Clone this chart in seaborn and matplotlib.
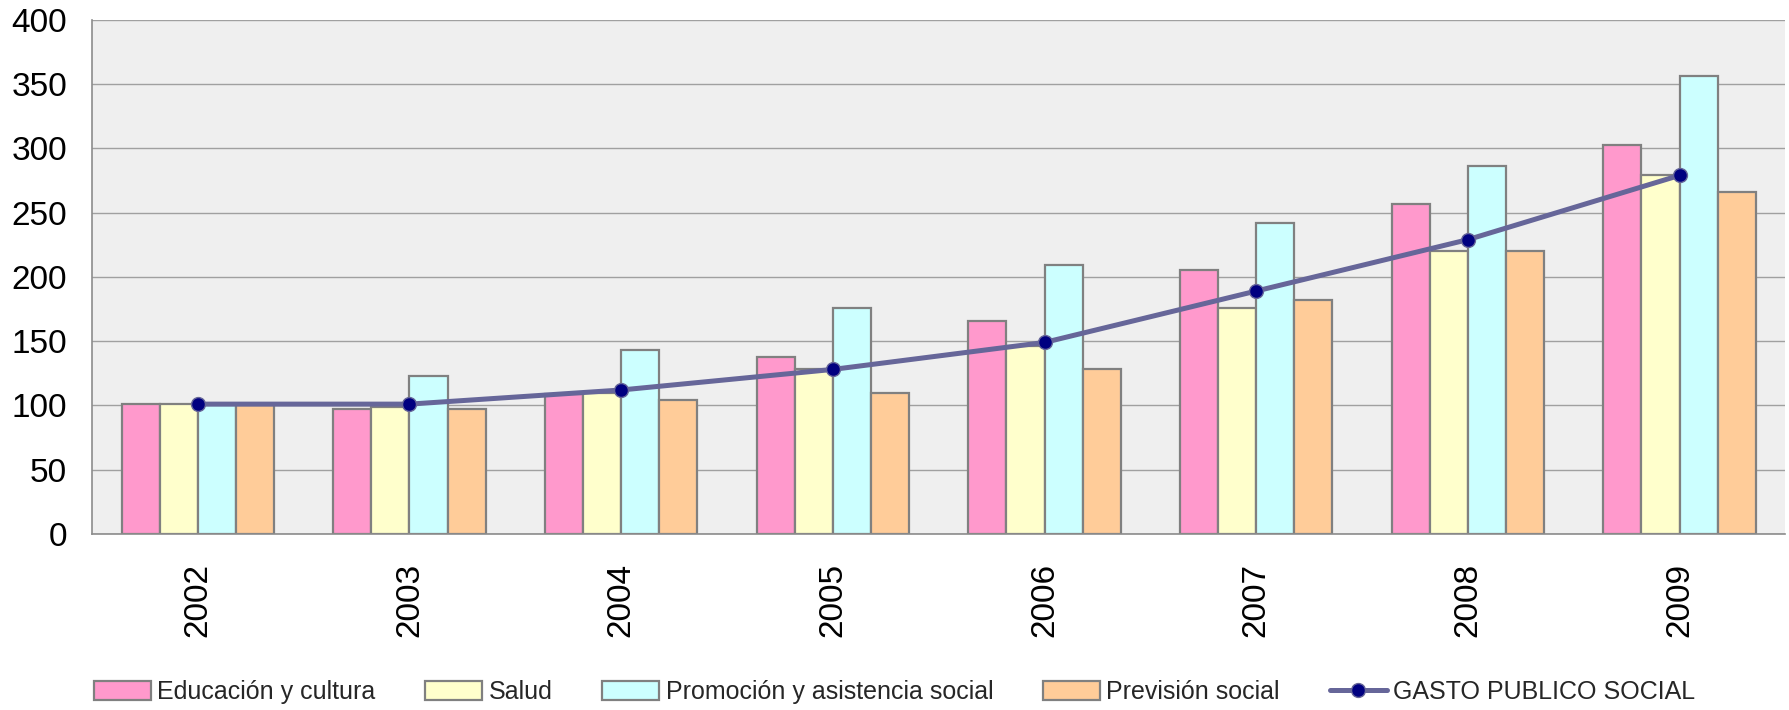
import numpy as np
import pandas as pd
import seaborn as sns
import matplotlib.pyplot as plt
from matplotlib.patches import Patch
from matplotlib.lines import Line2D

years = ["2002", "2003", "2004", "2005", "2006", "2007", "2008", "2009"]
educacion = [101, 97, 109, 138, 166, 205, 257, 303]
salud = [101, 99, 110, 128, 146, 176, 220, 279]
promocion = [100, 123, 143, 176, 209, 242, 286, 356]
prevision = [100, 97, 104, 110, 128, 182, 220, 266]
gasto = [101, 101, 112, 128, 149, 189, 229, 279]

series_names = ["Educación y cultura", "Salud", "Promoción y asistencia social", "Previsión social"]
line_name = "GASTO PUBLICO SOCIAL"
colors = ["#FF99CC", "#FFFFCC", "#CCFFFF", "#FFCC99"]

df = pd.DataFrame({
    "year": np.tile(years, 4),
    "serie": np.repeat(series_names, len(years)),
    "value": educacion + salud + promocion + prevision,
})

sns.set_style("white")
plt.rcParams["font.family"] = ["Liberation Sans", "DejaVu Sans"]

fig = plt.figure(figsize=(17.89, 7.10), dpi=100)
ax = fig.add_axes([0.0514, 0.248, 0.9466, 0.724])
ax.set_facecolor("#efefef")

sns.barplot(data=df, x="year", y="value", hue="serie", palette=colors,
            width=0.72, edgecolor="#808080", linewidth=1.6, saturation=1,
            ax=ax, legend=False, zorder=2)

xpos = np.arange(len(years))
ax.plot(xpos, gasto, color="#666699", lw=3.6, marker="o", markersize=10,
        markerfacecolor="#000080", markeredgecolor="#666699", markeredgewidth=1.0,
        zorder=3)

ax.set_xlim(-0.5, len(years) - 0.5)
ax.set_ylim(0, 400)
ax.set_yticks(np.arange(0, 401, 50))
ax.yaxis.grid(True, color="#a0a0a0", lw=1.0)
ax.xaxis.grid(False)
ax.set_axisbelow(True)

for s in ["top", "right"]:
    ax.spines[s].set_visible(False)
for s in ["left", "bottom"]:
    ax.spines[s].set_color("#8c8c8c")
    ax.spines[s].set_linewidth(1.2)

ax.set_xlabel("")
ax.set_ylabel("")
ax.set_xticks(xpos)
ax.set_xticklabels(years, rotation=90)
ax.set_xticks(np.arange(-0.5, len(years), 1), minor=True)
ax.tick_params(axis="x", which="major", length=0, pad=21, labelsize=24, colors="black")
ax.tick_params(axis="x", which="minor", length=8, width=1.2, color="#8c8c8c", direction="out")
ax.tick_params(axis="y", which="major", length=7, width=1.2, color="#8c8c8c",
               direction="out", pad=11, labelsize=24, labelcolor="black")

handles = [Patch(facecolor=c, edgecolor="#808080", linewidth=1.6) for c in colors]
handles.append(Line2D([0], [0], color="#666699", lw=3.6, marker="o", markersize=10,
                      markerfacecolor="#000080", markeredgecolor="#666699"))
labels = series_names + [line_name]
fig.legend(handles, labels, loc="center", bbox_to_anchor=(0.5, 0.025), ncol=5,
           frameon=False, fontsize=18, handlelength=2.28, handleheight=0.76,
           handletextpad=0.25, columnspacing=2.0)

fig.savefig("out.png", dpi=100)
